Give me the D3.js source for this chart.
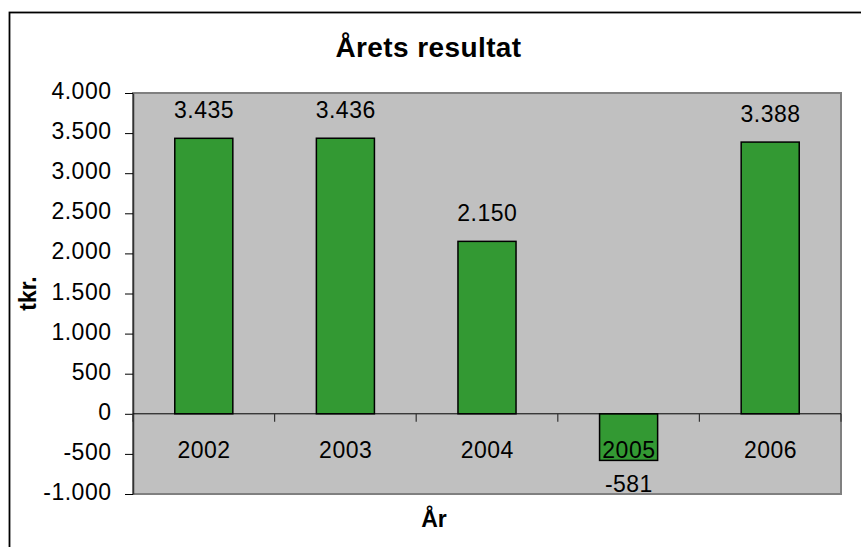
<!DOCTYPE html>
<html>
<head>
<meta charset="utf-8">
<script src="https://cdn.jsdelivr.net/npm/d3@7"></script>
<style>
  body { margin: 0; background: #fff; }
  text { font-family: "Liberation Sans", Arial, sans-serif; fill: #000; }
</style>
</head>
<body>
<div id="chart-area"></div>
<script>
// Årets resultat, tkr.
const years = ["2002", "2003", "2004", "2005", "2006"];
const results = [3435, 3436, 2150, -581, 3388];
const yTicks = [-1000, -500, 0, 500, 1000, 1500, 2000, 2500, 3000, 3500, 4000];

const W = 861, H = 547;
const plot = { left: 133, right: 841, top: 93, bottom: 494 };

const locale = d3.formatLocale({ decimal: ",", thousands: ".", grouping: [3], currency: ["", " kr"], minus: "-" });
const fmt = locale.format(",d");

const svg = d3.select('#chart-area').append('svg')
  .attr('width', W)
  .attr('height', H);

// outer chart frame (runs off the picture right and bottom)
svg.append('rect')
  .attr('x', 9.5).attr('y', 12.5)
  .attr('width', 900).attr('height', 600)
  .attr('fill', '#fff')
  .attr('stroke', '#000')
  .attr('stroke-width', 1.8);

const x = d3.scaleBand()
  .domain(years)
  .range([plot.left, plot.right])
  .paddingInner(0.59)
  .paddingOuter(0.295);

const y = d3.scaleLinear()
  .domain([-1000, 4000])
  .range([plot.bottom, plot.top]);

// plot area
svg.append('rect')
  .attr('x', plot.left).attr('y', plot.top)
  .attr('width', plot.right - plot.left)
  .attr('height', plot.bottom - plot.top)
  .attr('fill', '#c0c0c0')
  .attr('stroke', '#808080')
  .attr('stroke-width', 2);

// bars
svg.selectAll('rect.bar')
  .data(results)
  .enter()
  .append('rect')
    .attr('class', 'bar')
    .attr('x', (d, i) => x(years[i]))
    .attr('y', d => y(Math.max(d, 0)))
    .attr('width', x.bandwidth())
    .attr('height', d => Math.abs(y(d) - y(0)))
    .attr('fill', '#339933')
    .attr('stroke', '#000')
    .attr('stroke-width', 1.5);

// y axis
const yAxis = svg.append('g')
  .attr('transform', `translate(${plot.left},0)`)
  .call(d3.axisLeft(y).tickValues(yTicks).tickFormat(fmt).tickSize(8).tickSizeOuter(0).tickPadding(13.5));
yAxis.select('.domain').attr('stroke', '#333').attr('stroke-width', 1.5);
yAxis.selectAll('text')
  .attr('font-size', 23)
  .attr('letter-spacing', 0.5)
  .attr('font-family', '"Liberation Sans", Arial, sans-serif')
  .attr('dy', '0.24em');

// category axis on the zero line
const step = x.step();
const bounds = years.map(d => x(d) - (step - x.bandwidth()) / 2).concat([plot.right]);
svg.append('line')
  .attr('x1', plot.left).attr('x2', plot.right)
  .attr('y1', y(0)).attr('y2', y(0))
  .attr('stroke', '#000');
svg.selectAll('line.ctick')
  .data(bounds)
  .enter()
  .append('line')
    .attr('class', 'ctick')
    .attr('x1', d => d).attr('x2', d => d)
    .attr('y1', y(0)).attr('y2', y(0) + 8)
    .attr('stroke', '#333')
    .attr('stroke-width', 1.2);
svg.selectAll('text.cat')
  .data(years)
  .enter()
  .append('text')
    .attr('class', 'cat')
    .attr('x', d => x(d) + x.bandwidth() / 2 + 0.3)
    .attr('y', y(0) + 44)
    .attr('text-anchor', 'middle')
    .attr('font-size', 23)
    .attr('letter-spacing', 0.5)
    .text(d => d);

// data labels
svg.selectAll('text.val')
  .data(results)
  .enter()
  .append('text')
    .attr('class', 'val')
    .attr('x', (d, i) => x(years[i]) + x.bandwidth() / 2 + 0.3)
    .attr('y', d => d >= 0 ? y(d) - 20.5 : y(d) + 31.5)
    .attr('text-anchor', 'middle')
    .attr('font-size', 23)
    .attr('letter-spacing', 0.5)
    .text(d => fmt(d));

// titles
svg.append('text')
  .attr('x', 428.5).attr('y', 57)
  .attr('text-anchor', 'middle')
  .attr('font-size', 28)
  .attr('font-weight', 'bold')
  .attr('letter-spacing', 0.4)
  .text('Årets resultat');

svg.append('text')
  .attr('x', 434).attr('y', 527)
  .attr('text-anchor', 'middle')
  .attr('font-size', 23)
  .attr('font-weight', 'bold')
  .text('År');

svg.append('text')
  .attr('transform', `translate(36,${(plot.top + plot.bottom) / 2}) rotate(-90)`)
  .attr('text-anchor', 'middle')
  .attr('font-size', 23)
  .attr('font-weight', 'bold')
  .text('tkr.');
</script>
</body>
</html>
